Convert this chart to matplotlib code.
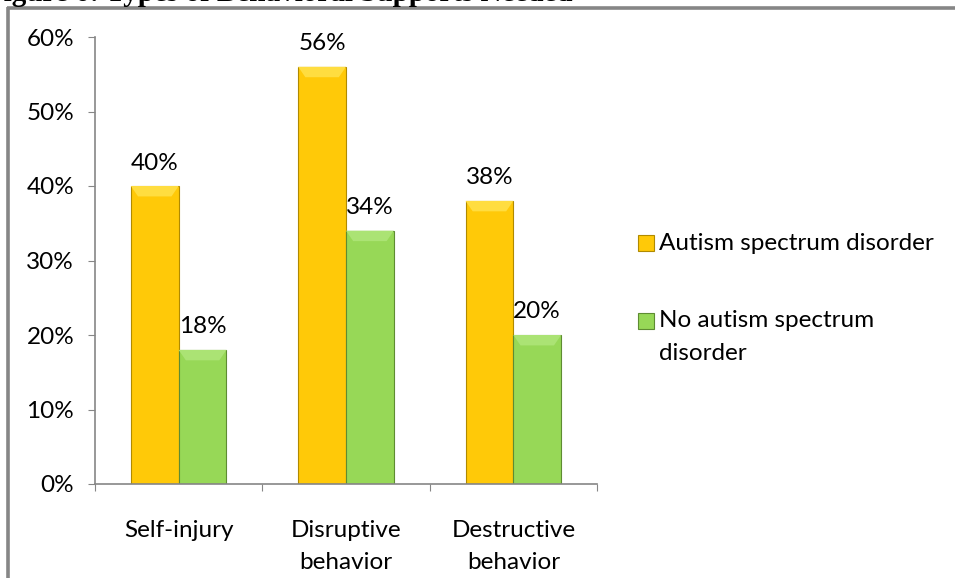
import matplotlib
matplotlib.use("Agg")
import matplotlib.pyplot as plt
import numpy as np
from matplotlib.patches import Rectangle
from matplotlib.lines import Line2D

categories = ["Self-injury", "Disruptive\nbehavior", "Destructive\nbehavior"]
autism = [40, 56, 38]
no_autism = [18, 34, 20]
series_names = ["Autism spectrum disorder", "No autism spectrum\ndisorder"]
yticks = [0, 10, 20, 30, 40, 50, 60]
title = "Figure 6: Types of Behavioral Supports Needed"

W, H = 955, 578
fig = plt.figure(figsize=(W / 100, H / 100), dpi=100)
font = "Lato"
fs = 17.5

def fx(px):
    return px / W

def fy(py):
    return 1 - py / H

# frame
frame_color = "#868686"
fig.add_artist(Line2D([fx(8), fx(8)], [fy(7), fy(600)], color=frame_color, lw=2.6,
                      transform=fig.transFigure, solid_capstyle="butt"))
fig.add_artist(Line2D([fx(6.7), fx(960)], [fy(8), fy(8)], color=frame_color, lw=2.6,
                      transform=fig.transFigure, solid_capstyle="butt"))

# clipped title (cut off at the top edge, as in the reference)
fig.text(fx(-14), fy(0.8), title, family="Liberation Serif", weight="bold",
         fontsize=21, ha="left", va="baseline", color="black")

ax = fig.add_axes([fx(95), fy(484), fx(597) - fx(95), fy(37) - fy(484)])
x = np.arange(len(categories))
bw = 1 / 3.5
yellow = "#FFC908"
yellow_edge = "#B08A00"
green = "#97D857"
green_edge = "#5E8C32"

b1 = ax.bar(x - bw / 2, autism, bw, color=yellow, edgecolor=yellow_edge, linewidth=0.8)
b2 = ax.bar(x + bw / 2, no_autism, bw, color=green, edgecolor=green_edge, linewidth=0.8)

# subtle bevel highlight at top of bars
for bars, hl in ((b1, "#FFDD40"), (b2, "#ABE374")):
    for r in bars:
        xx, w, h = r.get_x(), r.get_width(), r.get_height()
        ax.fill([xx, xx + w, xx + w * 0.85, xx + w * 0.15], [h, h, h - 1.4, h - 1.4],
                color=hl, zorder=3, lw=0)

for bars, vals in ((b1, autism), (b2, no_autism)):
    for r, v in zip(bars, vals):
        ax.annotate(f"{v}%", (r.get_x() + r.get_width() / 2, v), xytext=(0, 9),
                    textcoords="offset points", ha="center", va="bottom",
                    family=font, fontsize=fs, color="black")

ax.set_xlim(-0.5, len(categories) - 0.5)
ax.set_ylim(0, 60)
ax.set_yticks(yticks)
ax.set_yticklabels([f"{t}%" for t in yticks], family=font, fontsize=fs)
ax.set_xticks(np.arange(len(categories) + 1) - 0.5)
ax.set_xticklabels([])
ax.set_xticks(x, minor=True)
ax.set_xticklabels(categories, minor=True, family=font, fontsize=fs, linespacing=1.65)
ax.tick_params(axis="x", which="minor", length=0, pad=26)
ax.tick_params(axis="x", which="major", length=5, color="#868686", direction="out")
ax.tick_params(axis="y", length=5, color="#868686", direction="out", pad=10)

for s in ("top", "right"):
    ax.spines[s].set_visible(False)
for s in ("left", "bottom"):
    ax.spines[s].set_color("#868686")
    ax.spines[s].set_linewidth(1.2)

# legend
leg_items = [(yellow, yellow_edge, series_names[0], 243),
             (green, green_edge, series_names[1], 321)]
for col, ec, name, py in leg_items:
    fig.add_artist(Rectangle((fx(638), fy(py + 8)), fx(16), fy(0) - fy(16),
                             facecolor=col, edgecolor=ec, lw=0.8, transform=fig.transFigure))
    if "\n" in name:
        fig.text(fx(659), fy(py - 11), name, family=font, fontsize=fs, va="top",
                 ha="left", linespacing=1.7)
    else:
        fig.text(fx(659), fy(py), name, family=font, fontsize=fs, va="center", ha="left")

fig.savefig("out.png", dpi=100, facecolor="white")
